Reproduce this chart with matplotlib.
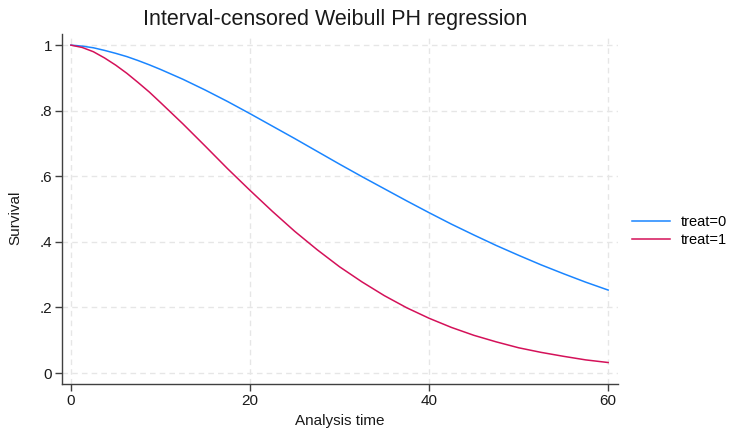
import matplotlib
matplotlib.use("Agg")
import matplotlib.pyplot as plt

plt.rcParams['font.family'] = ['Liberation Sans', 'DejaVu Sans']

# Values
time = [0, 1.25, 2.5, 3.75, 5, 6.25, 7.5, 8.75, 10, 12.5, 15, 17.5, 20, 22.5,
        25, 27.5, 30, 32.5, 35, 37.5, 40, 42.5, 45, 47.5, 50, 52.5, 55, 57.5, 60]
surv_treat0 = [1.0, 0.997, 0.992, 0.984, 0.975, 0.965, 0.953, 0.940, 0.926,
               0.896, 0.863, 0.828, 0.791, 0.753, 0.715, 0.676, 0.637, 0.599,
               0.562, 0.525, 0.489, 0.454, 0.421, 0.389, 0.359, 0.330, 0.303,
               0.277, 0.253]
surv_treat1 = [1.0, 0.993, 0.980, 0.961, 0.939, 0.914, 0.886, 0.857, 0.825,
               0.760, 0.692, 0.623, 0.557, 0.493, 0.432, 0.376, 0.324, 0.278,
               0.236, 0.199, 0.167, 0.139, 0.115, 0.095, 0.077, 0.063, 0.051,
               0.040, 0.032]
series_labels = ["treat=0", "treat=1"]
xticks = [0, 20, 40, 60]
yticks = [0, 0.2, 0.4, 0.6, 0.8, 1.0]
ytick_labels = ["0", ".2", ".4", ".6", ".8", "1"]

fig = plt.figure(figsize=(7.29, 4.29), dpi=100)
ax = fig.add_axes([62/729, 1 - 384/429, (618 - 62)/729, (384 - 34)/429])

ax.set_xlim(-1.0, 61.1)
ax.set_ylim(-0.0335, 1.034)

ax.grid(True, color='#e6e6e6', linestyle=(0, (4, 3)), linewidth=1.0)
ax.set_axisbelow(True)

l0, = ax.plot(time, surv_treat0, color='#1a85ff', lw=1.1, label=series_labels[0])
l1, = ax.plot(time, surv_treat1, color='#d41159', lw=1.1, label=series_labels[1])

ax.set_xticks(xticks)
ax.set_yticks(yticks)
ax.set_yticklabels(ytick_labels)
for s in ['top', 'right']:
    ax.spines[s].set_visible(False)
for s in ['left', 'bottom']:
    ax.spines[s].set_color('#404040')
    ax.spines[s].set_linewidth(1.0)
ax.tick_params(direction='out', length=5, width=1.0, color='#404040',
               labelsize=11, labelcolor='#1a1a1a', pad=2)

ax.set_xlabel("Analysis time", fontsize=11, color='#1a1a1a')
ax.xaxis.set_label_coords(0.5, -0.085)
ax.set_ylabel("Survival", fontsize=11, color='#1a1a1a')
ax.yaxis.set_label_coords(-0.072, 0.474)

fig.text(335/729, 1 - 19/429, "Interval-censored Weibull PH regression",
         ha='center', va='center', fontsize=15.5, color='#1a1a1a')

fig.legend(handles=[l0, l1], loc='center left',
           bbox_to_anchor=(626/729, 1 - 231/429), frameon=False,
           fontsize=10.5, handlelength=2.6, handletextpad=0.75,
           labelspacing=0.3, borderaxespad=0)

fig.savefig("out.png", dpi=100)
